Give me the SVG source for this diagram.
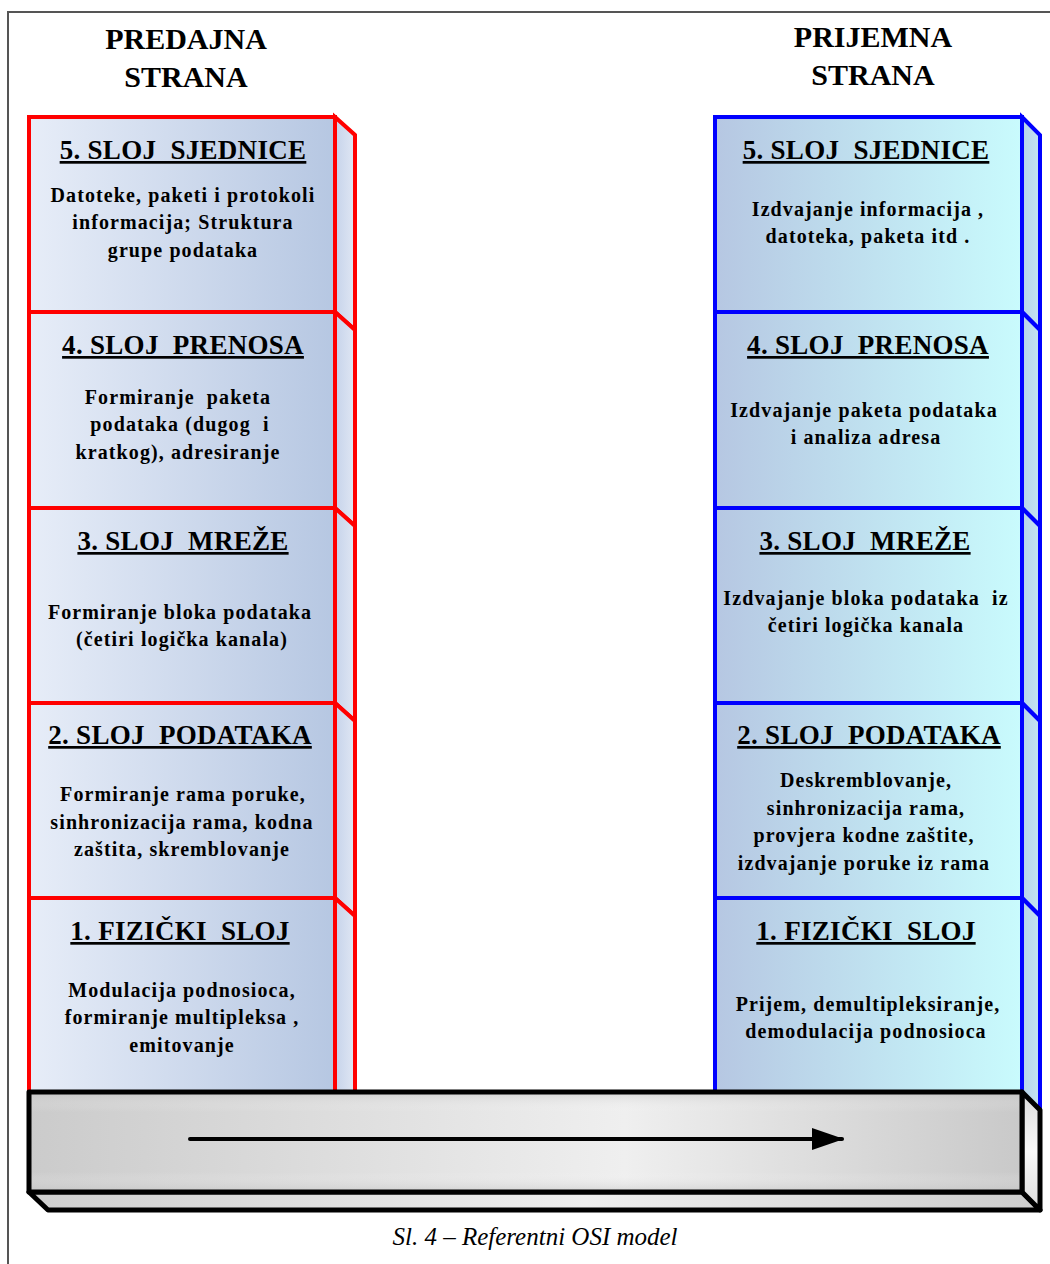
<svg xmlns="http://www.w3.org/2000/svg" width="1050" height="1264" viewBox="0 0 1050 1264">
  <style>
    .hdr { font-family: "Liberation Serif", "Times New Roman", serif; font-weight: bold; font-size: 30px; text-anchor: middle; fill: #000; }
    .ttl { font-family: "Liberation Serif", "Times New Roman", serif; font-weight: bold; font-size: 27px; text-anchor: middle; fill: #000; text-decoration: underline; white-space: pre; letter-spacing: 0.3px; }
    .txt { font-family: "Liberation Serif", "Times New Roman", serif; font-weight: bold; font-size: 20px; text-anchor: middle; fill: #000; white-space: pre; letter-spacing: 1.1px; }
    .cap { font-family: "Liberation Serif", "Times New Roman", serif; font-style: italic; font-size: 25px; text-anchor: middle; fill: #000; }
    .tx-face { fill: url(#gTx); stroke: #ff0000; stroke-width: 4; stroke-linejoin: miter; }
    .tx-side { fill: url(#gTxSide); stroke: #ff0000; stroke-width: 4; stroke-linejoin: miter; }
    .rx-face { fill: url(#gRx); stroke: #0000ff; stroke-width: 4; stroke-linejoin: miter; }
    .rx-side { fill: url(#gRxSide); stroke: #0000ff; stroke-width: 4; stroke-linejoin: miter; }
    .bar { stroke: #000; stroke-width: 5; stroke-linejoin: round; }
  </style>
  <defs>
    <linearGradient id="gTx" x1="0" y1="0" x2="1" y2="0">
      <stop offset="0" stop-color="#e7edf8"/>
      <stop offset="1" stop-color="#b6c7e2"/>
    </linearGradient>
    <linearGradient id="gTxSide" x1="0" y1="0" x2="1" y2="0">
      <stop offset="0" stop-color="#c6d3ea"/>
      <stop offset="1" stop-color="#e0e7f4"/>
    </linearGradient>
    <linearGradient id="gRx" x1="0" y1="0" x2="1" y2="0">
      <stop offset="0" stop-color="#b6c7e2"/>
      <stop offset="1" stop-color="#c9fbfd"/>
    </linearGradient>
    <linearGradient id="gRxSide" x1="0" y1="0" x2="1" y2="0">
      <stop offset="0" stop-color="#b6d2ea"/>
      <stop offset="1" stop-color="#c4e4f2"/>
    </linearGradient>
    <linearGradient id="gBarH" x1="0" y1="0" x2="1" y2="0">
      <stop offset="0" stop-color="#cbcbcb"/>
      <stop offset="0.6" stop-color="#efefef"/>
      <stop offset="1" stop-color="#c9c9c9"/>
    </linearGradient>
    <linearGradient id="gBarV" x1="0" y1="0" x2="0" y2="1">
      <stop offset="0" stop-color="#bdbdbd" stop-opacity="0.5"/>
      <stop offset="0.2" stop-color="#ffffff" stop-opacity="0"/>
      <stop offset="0.8" stop-color="#ffffff" stop-opacity="0"/>
      <stop offset="1" stop-color="#bdbdbd" stop-opacity="0.5"/>
    </linearGradient>
    <linearGradient id="gBarBottom" x1="0" y1="0" x2="1" y2="0">
      <stop offset="0" stop-color="#cfcfcf"/>
      <stop offset="0.55" stop-color="#eeeeee"/>
      <stop offset="1" stop-color="#cdcdcd"/>
    </linearGradient>
    <linearGradient id="gBarSide" x1="0" y1="0" x2="0" y2="1">
      <stop offset="0" stop-color="#dcdcdc"/>
      <stop offset="0.5" stop-color="#f8f8f8"/>
      <stop offset="1" stop-color="#dcdcdc"/>
    </linearGradient>
    <marker id="arrowHead" markerWidth="32" markerHeight="22" refX="30" refY="11" orient="auto" markerUnits="userSpaceOnUse">
      <path d="M0,0 L32,11 L0,22 Z" fill="#000"/>
    </marker>
  </defs>

  <!-- page frame -->
  <rect x="8" y="12" width="1060" height="1270" fill="#fff" stroke="#555" stroke-width="2"/>

  <!-- column headings -->
  <text class="hdr" x="186" y="49">PREDAJNA</text>
  <text class="hdr" x="186" y="87">STRANA</text>
  <text class="hdr" x="873" y="47">PRIJEMNA</text>
  <text class="hdr" x="873" y="85">STRANA</text>

  <!-- transmitting side stack -->
  <g id="tx-layer5">
    <polygon class="tx-side" points="335,117 355,135 355,330 335,312"/>
    <rect class="tx-face" x="29" y="117" width="306" height="195"/>
    <text class="ttl" x="183" y="159">5. SLOJ  SJEDNICE</text>
    <text class="txt" x="183" y="202">Datoteke, paketi i protokoli</text>
    <text class="txt" x="183" y="229">informacija; Struktura</text>
    <text class="txt" x="183" y="257">grupe podataka</text>
  </g>
  <g id="tx-layer4">
    <polygon class="tx-side" points="335,312 355,330 355,526 335,508"/>
    <rect class="tx-face" x="29" y="312" width="306" height="196"/>
    <text class="ttl" x="183" y="354">4. SLOJ  PRENOSA</text>
    <text class="txt" x="178" y="404">Formiranje  paketa</text>
    <text class="txt" x="180" y="431">podataka (dugog  i</text>
    <text class="txt" x="178" y="459">kratkog), adresiranje</text>
  </g>
  <g id="tx-layer3">
    <polygon class="tx-side" points="335,508 355,526 355,721 335,703"/>
    <rect class="tx-face" x="29" y="508" width="306" height="195"/>
    <text class="ttl" x="183" y="550">3. SLOJ  MREŽE</text>
    <text class="txt" x="180" y="619">Formiranje bloka podataka</text>
    <text class="txt" x="182" y="646">(četiri logička kanala)</text>
  </g>
  <g id="tx-layer2">
    <polygon class="tx-side" points="335,703 355,721 355,916 335,898"/>
    <rect class="tx-face" x="29" y="703" width="306" height="195"/>
    <text class="ttl" x="180" y="744">2. SLOJ  PODATAKA</text>
    <text class="txt" x="183" y="801">Formiranje rama poruke,</text>
    <text class="txt" x="182" y="829">sinhronizacija rama, kodna</text>
    <text class="txt" x="182" y="856">zaštita, skremblovanje</text>
  </g>
  <g id="tx-layer1">
    <polygon class="tx-side" points="335,898 355,916 355,1111 335,1093"/>
    <rect class="tx-face" x="29" y="898" width="306" height="195"/>
    <text class="ttl" x="180" y="940">1. FIZIČKI  SLOJ</text>
    <text class="txt" x="182" y="997">Modulacija podnosioca,</text>
    <text class="txt" x="182" y="1024">formiranje multipleksa ,</text>
    <text class="txt" x="182" y="1052">emitovanje</text>
  </g>

  <!-- receiving side stack -->
  <g id="rx-layer5">
    <polygon class="rx-side" points="1022,117 1040,135 1040,330 1022,312"/>
    <rect class="rx-face" x="715" y="117" width="307" height="195"/>
    <text class="ttl" x="866" y="159">5. SLOJ  SJEDNICE</text>
    <text class="txt" x="868" y="216">Izdvajanje informacija ,</text>
    <text class="txt" x="868" y="243">datoteka, paketa itd .</text>
  </g>
  <g id="rx-layer4">
    <polygon class="rx-side" points="1022,312 1040,330 1040,526 1022,508"/>
    <rect class="rx-face" x="715" y="312" width="307" height="196"/>
    <text class="ttl" x="868" y="354">4. SLOJ  PRENOSA</text>
    <text class="txt" x="864" y="417">Izdvajanje paketa podataka</text>
    <text class="txt" x="866" y="444">i analiza adresa</text>
  </g>
  <g id="rx-layer3">
    <polygon class="rx-side" points="1022,508 1040,526 1040,721 1022,703"/>
    <rect class="rx-face" x="715" y="508" width="307" height="195"/>
    <text class="ttl" x="865" y="550">3. SLOJ  MREŽE</text>
    <text class="txt" x="866" y="605">Izdvajanje bloka podataka  iz</text>
    <text class="txt" x="866" y="632">četiri logička kanala</text>
  </g>
  <g id="rx-layer2">
    <polygon class="rx-side" points="1022,703 1040,721 1040,916 1022,898"/>
    <rect class="rx-face" x="715" y="703" width="307" height="195"/>
    <text class="ttl" x="869" y="744">2. SLOJ  PODATAKA</text>
    <text class="txt" x="866" y="787">Deskremblovanje,</text>
    <text class="txt" x="866" y="815">sinhronizacija rama,</text>
    <text class="txt" x="864" y="842">provjera kodne zaštite,</text>
    <text class="txt" x="864" y="870">izdvajanje poruke iz rama</text>
  </g>
  <g id="rx-layer1">
    <polygon class="rx-side" points="1022,898 1040,916 1040,1111 1022,1093"/>
    <rect class="rx-face" x="715" y="898" width="307" height="195"/>
    <text class="ttl" x="866" y="940">1. FIZIČKI  SLOJ</text>
    <text class="txt" x="868" y="1011">Prijem, demultipleksiranje,</text>
    <text class="txt" x="866" y="1038">demodulacija podnosioca</text>
  </g>

  <!-- physical transmission medium -->
  <g id="medium">
    <polygon class="bar" fill="url(#gBarBottom)" points="29,1192 1022,1192 1040,1210 48,1210"/>
    <polygon class="bar" fill="url(#gBarSide)" points="1022,1092 1040,1110 1040,1210 1022,1192"/>
    <rect x="29" y="1092" width="993" height="100" fill="url(#gBarH)"/>
    <rect class="bar" x="29" y="1092" width="993" height="100" fill="url(#gBarV)"/>
  </g>

  <!-- direction of transfer -->
  <g id="connectors">
    <line x1="190" y1="1139" x2="842" y2="1139" stroke="#000" stroke-width="4" stroke-linecap="round" marker-end="url(#arrowHead)"/>
  </g>

  <text class="cap" x="535" y="1245">Sl. 4 – Referentni OSI model</text>
</svg>
